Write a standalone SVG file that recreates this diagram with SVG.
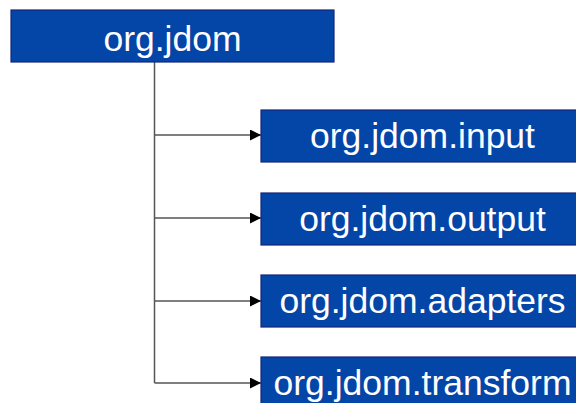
<svg xmlns="http://www.w3.org/2000/svg" width="576" height="403" viewBox="0 0 576 403">
  <style>
    .box { fill: #0445a8; stroke: #14257a; stroke-width: 1.2; }
    .label { font-family: "Liberation Sans", Arial, sans-serif; font-size: 35.5px; fill: #ffffff; text-anchor: middle; }
    .link { stroke: #555555; stroke-width: 1.5; fill: none; }
  </style>
  <defs>
    <marker id="arrow" markerWidth="11" markerHeight="11" refX="11" refY="5.5" orient="auto" markerUnits="userSpaceOnUse">
      <path d="M0,0 L11,5.5 L0,11 Z" fill="#000000"/>
    </marker>
  </defs>

  <!-- connectors: trunk from the root package, one branch per sub-package -->
  <g id="connectors">
    <path class="link" d="M154.5,62 V383"/>
    <path class="link" d="M154.5,135 H261" marker-end="url(#arrow)"/>
    <path class="link" d="M154.5,218 H261" marker-end="url(#arrow)"/>
    <path class="link" d="M154.5,301 H261" marker-end="url(#arrow)"/>
    <path class="link" d="M154.5,383 H261" marker-end="url(#arrow)"/>
  </g>

  <g id="org-jdom">
    <rect class="box" x="11" y="10" width="323" height="52"/>
    <text class="label" x="172.5" y="51" font-size="34.5">org.jdom</text>
  </g>

  <g id="org-jdom-input">
    <rect class="box" x="261" y="110" width="323" height="52"/>
    <text class="label" x="422.5" y="148">org.jdom.input</text>
  </g>

  <g id="org-jdom-output">
    <rect class="box" x="261" y="193" width="323" height="52"/>
    <text class="label" x="422.5" y="231">org.jdom.output</text>
  </g>

  <g id="org-jdom-adapters">
    <rect class="box" x="261" y="275" width="323" height="52"/>
    <text class="label" x="422.5" y="313">org.jdom.adapters</text>
  </g>

  <g id="org-jdom-transform">
    <rect class="box" x="261" y="357" width="323" height="52"/>
    <text class="label" x="422.5" y="395">org.jdom.transform</text>
  </g>
</svg>
